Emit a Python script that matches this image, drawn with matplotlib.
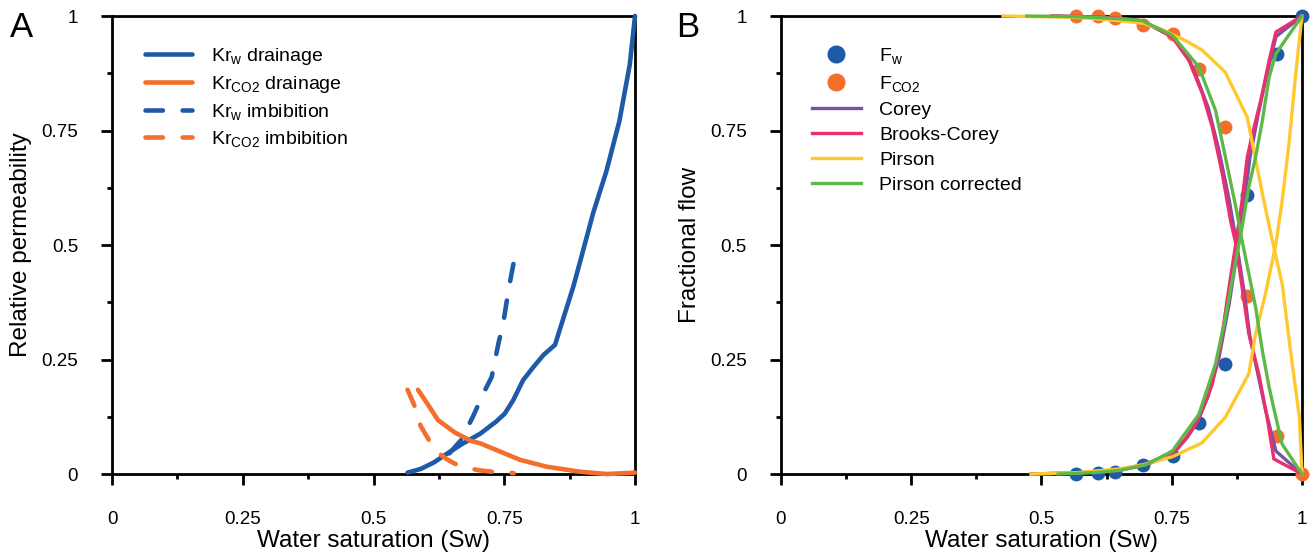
import matplotlib
matplotlib.use('Agg')
import matplotlib.pyplot as plt

plt.rcParams['font.family'] = ['Liberation Sans', 'DejaVu Sans']
plt.rcParams['mathtext.default'] = 'regular'

# ---- panel A : relative permeability ----
krw_dr_sw = [0.565, 0.59, 0.615, 0.64, 0.67, 0.704, 0.735, 0.751, 0.767, 0.786, 0.806,
             0.825, 0.847, 0.863, 0.882, 0.901, 0.92, 0.945, 0.97, 0.99, 1.0]
krw_dr = [0.003, 0.011, 0.025, 0.044, 0.066, 0.088, 0.115, 0.132, 0.161, 0.205, 0.234,
          0.26, 0.282, 0.34, 0.409, 0.489, 0.57, 0.66, 0.77, 0.894, 1.0]

krco2_dr_sw = [0.585, 0.605, 0.623, 0.655, 0.687, 0.704, 0.742, 0.78, 0.831, 0.895, 0.946, 1.0]
krco2_dr = [0.184, 0.15, 0.118, 0.091, 0.072, 0.067, 0.049, 0.031, 0.016, 0.005, 0.0, 0.003]

krw_im_sw = [0.645, 0.668, 0.69, 0.71, 0.726, 0.739, 0.748, 0.758, 0.764, 0.772]
krw_im = [0.045, 0.075, 0.125, 0.176, 0.212, 0.286, 0.329, 0.401, 0.438, 0.485]

krco2_im_sw = [0.565, 0.578, 0.59, 0.603, 0.615, 0.628, 0.639, 0.653, 0.667, 0.685, 0.703, 0.735, 0.768]
krco2_im = [0.184, 0.15, 0.105, 0.08, 0.056, 0.043, 0.033, 0.024, 0.017, 0.012, 0.008, 0.004, 0.002]

# ---- panel B : fractional flow ----
pts_sw = [0.566, 0.608, 0.642, 0.694, 0.752, 0.802, 0.852, 0.894, 0.952, 1.0]
fw_pts = [0.0, 0.003, 0.005, 0.02, 0.04, 0.112, 0.24, 0.61, 0.918, 1.0]
fco2_pts = [1.0, 1.0, 0.995, 0.98, 0.96, 0.885, 0.757, 0.388, 0.084, 0.0]

corey_w_sw = [0.48, 0.55, 0.6, 0.65, 0.7, 0.751, 0.78, 0.8, 0.82, 0.84, 0.86, 0.875, 0.89,
              0.9, 0.915, 0.93, 0.95, 1.0]
corey_w = [0.0, 0.002, 0.004, 0.008, 0.02, 0.042, 0.08, 0.115, 0.17, 0.25, 0.37, 0.48, 0.6,
           0.69, 0.78, 0.86, 0.955, 1.0]
corey_g_sw = [0.52, 0.6, 0.65, 0.7, 0.751, 0.78, 0.8, 0.82, 0.84, 0.86, 0.875, 0.89, 0.9,
              0.915, 0.93, 0.95, 1.0]
corey_g = [1.0, 0.998, 0.994, 0.985, 0.955, 0.915, 0.86, 0.8, 0.71, 0.6, 0.5, 0.39, 0.3,
           0.22, 0.14, 0.05, 0.0]

bc_w_sw = [0.48, 0.55, 0.6, 0.65, 0.7, 0.751, 0.775, 0.796, 0.812, 0.828, 0.847, 0.86, 0.873,
           0.885, 0.895, 0.905, 0.921, 0.937, 0.95, 1.0]
bc_w = [0.0, 0.002, 0.004, 0.009, 0.022, 0.045, 0.075, 0.109, 0.15, 0.197, 0.306, 0.408, 0.503,
        0.597, 0.692, 0.743, 0.816, 0.903, 0.965, 1.0]
bc_g_sw = [0.52, 0.6, 0.65, 0.693, 0.751, 0.783, 0.809, 0.828, 0.847, 0.863, 0.873, 0.885,
           0.898, 0.917, 0.933, 0.946, 1.0]
bc_g = [1.0, 0.998, 0.995, 0.99, 0.954, 0.903, 0.83, 0.757, 0.656, 0.553, 0.503, 0.408,
        0.306, 0.219, 0.124, 0.033, 0.0]

pir_w_sw = [0.48, 0.568, 0.648, 0.694, 0.752, 0.808, 0.853, 0.898, 0.911, 0.93, 0.95, 0.962,
            0.975, 0.988, 1.0]
pir_w = [0.0, 0.003, 0.011, 0.02, 0.038, 0.068, 0.124, 0.219, 0.306, 0.394, 0.503, 0.597,
         0.721, 0.874, 1.0]
pir_g_sw = [0.426, 0.568, 0.648, 0.696, 0.732, 0.777, 0.809, 0.853, 0.895, 0.905, 0.924, 0.943,
            0.962, 0.978, 0.995, 1.0]
pir_g = [1.0, 0.997, 0.99, 0.984, 0.97, 0.946, 0.925, 0.877, 0.779, 0.721, 0.612, 0.51,
         0.415, 0.269, 0.124, 0.0]

pc_w_sw = [0.532, 0.6, 0.65, 0.7, 0.751, 0.802, 0.834, 0.853, 0.873, 0.885, 0.898, 0.911,
           0.924, 0.937, 0.95, 1.0]
pc_w = [0.0, 0.003, 0.008, 0.02, 0.05, 0.13, 0.24, 0.342, 0.466, 0.539, 0.627, 0.692,
        0.772, 0.867, 0.918, 1.0]
pc_g_sw = [0.472, 0.55, 0.6, 0.65, 0.693, 0.751, 0.802, 0.834, 0.853, 0.873, 0.885, 0.898,
           0.911, 0.924, 0.937, 0.95, 0.962, 1.0]
pc_g = [1.0, 0.999, 0.997, 0.994, 0.99, 0.958, 0.889, 0.794, 0.692, 0.583, 0.51, 0.437,
        0.364, 0.269, 0.189, 0.123, 0.065, 0.0]

ticks = [0, 0.25, 0.5, 0.75, 1]
tick_labels = ['0', '0.25', '0.5', '0.75', '1']
minor_ticks = [0.125, 0.375, 0.625, 0.875]

blue = '#1f5aa8'
orange = '#f36f2b'
purple = '#7b52a3'
pink = '#e9306f'
yellow = '#fec82e'
green = '#5eb847'


def style_axes(ax, ylabel):
    ax.set_xlim(0, 1)
    ax.set_ylim(0, 1)
    ax.set_xticks(ticks)
    ax.set_xticklabels(tick_labels)
    ax.set_yticks(ticks)
    ax.set_yticklabels(tick_labels)
    ax.set_xticks(minor_ticks, minor=True)
    ax.set_yticks(minor_ticks, minor=True)
    ax.tick_params(which='both', direction='out', width=2, color='black', labelsize=13.5)
    ax.tick_params(which='major', length=8)
    ax.tick_params(which='minor', length=3.5)
    ax.tick_params(axis='x', pad=18.5)
    ax.tick_params(axis='y', pad=16.5)
    for sp in ax.spines.values():
        sp.set_linewidth(2)
    ax.set_xlabel('Water saturation (Sw)', fontsize=17.5)
    ax.xaxis.set_label_coords(0.5, -0.146)
    ax.xaxis.label.set_va('center')
    ax.set_ylabel(ylabel, fontsize=17.5)
    ax.yaxis.set_label_coords(-0.174, 0.5)
    ax.yaxis.label.set_va('center')


fig = plt.figure(figsize=(13.15, 5.58), dpi=100)
ax_a = fig.add_axes([0.0852, 0.1505, 0.3977, 0.8208])
ax_b = fig.add_axes([0.5939, 0.1505, 0.3962, 0.8208])

# panel A
lw_a = 3.3
dash = (0, (3.8, 4.3))
ax_a.plot(krw_dr_sw, krw_dr, color=blue, lw=lw_a, solid_capstyle='round',
          solid_joinstyle='round', clip_on=False, zorder=3, label=r'Kr$_w$ drainage')
ax_a.plot(krco2_dr_sw, krco2_dr, color=orange, lw=lw_a, solid_capstyle='round',
          solid_joinstyle='round', clip_on=False, zorder=3, label=r'Kr$_{CO2}$ drainage')
ax_a.plot(krw_im_sw, krw_im, color=blue, lw=lw_a, linestyle=dash, dash_capstyle='round',
          clip_on=False, zorder=3, label=r'Kr$_w$ imbibition')
ax_a.plot(krco2_im_sw, krco2_im, color=orange, lw=lw_a, linestyle=dash, dash_capstyle='round',
          clip_on=False, zorder=3, label=r'Kr$_{CO2}$ imbibition')
style_axes(ax_a, 'Relative permeability')
ax_a.legend(loc='upper left', bbox_to_anchor=(0.063, 0.934), frameon=False, fontsize=14,
            borderpad=0, borderaxespad=0, handlelength=2.4, handletextpad=1.0,
            labelspacing=0.35)

# panel B
ax_b.plot(pts_sw, fw_pts, 'o', color=blue, ms=10, mec='none', clip_on=False, zorder=3,
          label=r'F$_w$')
ax_b.plot(pts_sw, fco2_pts, 'o', color=orange, ms=10, mec='none', clip_on=False, zorder=3,
          label=r'F$_{CO2}$')
lw_b = 2.4
models = [
    (corey_w_sw, corey_w, corey_g_sw, corey_g, purple, 'Corey'),
    (bc_w_sw, bc_w, bc_g_sw, bc_g, pink, 'Brooks-Corey'),
    (pir_w_sw, pir_w, pir_g_sw, pir_g, yellow, 'Pirson'),
    (pc_w_sw, pc_w, pc_g_sw, pc_g, green, 'Pirson corrected'),
]
for xw, yw, xg, yg, col, name in models:
    ax_b.plot(xw, yw, color=col, lw=lw_b, clip_on=False, zorder=3, label=name,
              solid_joinstyle='round')
    ax_b.plot(xg, yg, color=col, lw=lw_b, clip_on=False, zorder=3, solid_joinstyle='round')
style_axes(ax_b, 'Fractional flow')
ax_b.legend(loc='upper left', bbox_to_anchor=(0.0595, 0.934), frameon=False, fontsize=14,
            borderpad=0, borderaxespad=0, handlelength=2.5, handletextpad=0.95,
            labelspacing=0.38, numpoints=1, markerscale=1.3)

fig.text(0.0076, 1 - 37 / 558, 'A', fontsize=25, va='baseline', ha='left')
fig.text(0.514, 1 - 37 / 558, 'B', fontsize=25, va='baseline', ha='left')

fig.savefig('out.png', dpi=100)
